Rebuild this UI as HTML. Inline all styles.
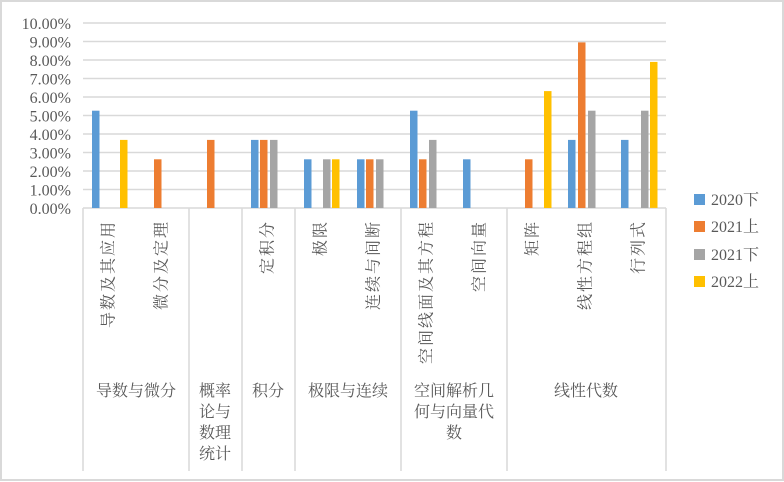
<!DOCTYPE html>
<html><head><meta charset="utf-8"><style>
html,body{margin:0;padding:0;background:#fff}
svg{display:block}
.y{font-family:"Liberation Serif","Noto Serif CJK SC",serif;font-size:16px;fill:#595959}
.c{font-family:"Liberation Serif","Noto Serif CJK SC","Noto Sans CJK SC",serif;font-size:16px;fill:#595959}
</style></head><body>
<svg width="784" height="482" xmlns="http://www.w3.org/2000/svg">
<rect x="1" y="1" width="782" height="479" fill="#fff" stroke="#d9d9d9" stroke-width="2"/>
<g stroke="#d9d9d9" stroke-width="1.5">
<line x1="83" x2="666" y1="23" y2="23"/><line x1="83" x2="666" y1="41.5" y2="41.5"/>
<line x1="83" x2="666" y1="60" y2="60"/><line x1="83" x2="666" y1="78.5" y2="78.5"/>
<line x1="83" x2="666" y1="97" y2="97"/><line x1="83" x2="666" y1="115.5" y2="115.5"/>
<line x1="83" x2="666" y1="134" y2="134"/><line x1="83" x2="666" y1="152.5" y2="152.5"/>
<line x1="83" x2="666" y1="171" y2="171"/><line x1="83" x2="666" y1="189.5" y2="189.5"/>
<line x1="83" x2="666" y1="208" y2="208"/>
<line x1="83" x2="83" y1="208" y2="471"/><line x1="189" x2="189" y1="208" y2="471"/>
<line x1="242" x2="242" y1="208" y2="471"/><line x1="295" x2="295" y1="208" y2="471"/>
<line x1="401" x2="401" y1="208" y2="471"/><line x1="507" x2="507" y1="208" y2="471"/>
<line x1="666" x2="666" y1="208" y2="471"/>
</g>
<g class="y" text-anchor="end">
<text x="71" y="29">10.00%</text><text x="71" y="47.5">9.00%</text><text x="71" y="66">8.00%</text>
<text x="71" y="84.5">7.00%</text><text x="71" y="103">6.00%</text><text x="71" y="121.5">5.00%</text>
<text x="71" y="140">4.00%</text><text x="71" y="158.5">3.00%</text><text x="71" y="177">2.00%</text>
<text x="71" y="195.5">1.00%</text><text x="71" y="214">0.00%</text>
</g>
<g>
<rect x="92" y="110.7" width="7.5" height="97.3" fill="#5b9bd5"/>
<rect x="120" y="139.9" width="7.5" height="68.1" fill="#ffc000"/>
<rect x="154" y="159.3" width="7.5" height="48.7" fill="#ed7d31"/>
<rect x="207" y="139.9" width="7.5" height="68.1" fill="#ed7d31"/>
<rect x="251" y="139.9" width="7.5" height="68.1" fill="#5b9bd5"/>
<rect x="260" y="139.9" width="7.5" height="68.1" fill="#ed7d31"/>
<rect x="270" y="139.9" width="7.5" height="68.1" fill="#a5a5a5"/>
<rect x="304" y="159.3" width="7.5" height="48.7" fill="#5b9bd5"/>
<rect x="323" y="159.3" width="7.5" height="48.7" fill="#a5a5a5"/>
<rect x="332" y="159.3" width="7.5" height="48.7" fill="#ffc000"/>
<rect x="357" y="159.3" width="7.5" height="48.7" fill="#5b9bd5"/>
<rect x="366" y="159.3" width="7.5" height="48.7" fill="#ed7d31"/>
<rect x="376" y="159.3" width="7.5" height="48.7" fill="#a5a5a5"/>
<rect x="410" y="110.7" width="7.5" height="97.3" fill="#5b9bd5"/>
<rect x="419" y="159.3" width="7.5" height="48.7" fill="#ed7d31"/>
<rect x="429" y="139.9" width="7.5" height="68.1" fill="#a5a5a5"/>
<rect x="463" y="159.3" width="7.5" height="48.7" fill="#5b9bd5"/>
<rect x="525" y="159.3" width="7.5" height="48.7" fill="#ed7d31"/>
<rect x="544" y="91.1" width="7.5" height="116.9" fill="#ffc000"/>
<rect x="568" y="139.9" width="7.5" height="68.1" fill="#5b9bd5"/>
<rect x="578" y="42.4" width="7.5" height="165.6" fill="#ed7d31"/>
<rect x="588" y="110.7" width="7.5" height="97.3" fill="#a5a5a5"/>
<rect x="621" y="139.9" width="7.5" height="68.1" fill="#5b9bd5"/>
<rect x="641" y="110.7" width="7.5" height="97.3" fill="#a5a5a5"/>
<rect x="650" y="61.9" width="7.5" height="146" fill="#ffc000"/>
</g>
<g class="c" dominant-baseline="central" text-anchor="end" letter-spacing="2">
<text transform="translate(109,220) rotate(-90)">导数及其应用</text>
<text transform="translate(162,220) rotate(-90)">微分及定理</text>
<text transform="translate(268,220) rotate(-90)">定积分</text>
<text transform="translate(321,220) rotate(-90)">极限</text>
<text transform="translate(374,220) rotate(-90)">连续与间断</text>
<text transform="translate(427,220) rotate(-90)">空间线面及其方程</text>
<text transform="translate(480,220) rotate(-90)">空间向量</text>
<text transform="translate(533,220) rotate(-90)">矩阵</text>
<text transform="translate(586,220) rotate(-90)">线性方程组</text>
<text transform="translate(639,220) rotate(-90)">行列式</text>
</g>
<g class="c" text-anchor="middle">
<text x="136" y="396">导数与微分</text>
<text x="215" y="396">概率</text><text x="215" y="417">论与</text><text x="215" y="438">数理</text><text x="215" y="459">统计</text>
<text x="268" y="396">积分</text>
<text x="348" y="396">极限与连续</text>
<text x="454" y="396">空间解析几</text><text x="454" y="417">何与向量代</text><text x="454" y="438">数</text>
<text x="586" y="396">线性代数</text>
</g>
<g class="y">
<rect x="694" y="194" width="11" height="11" fill="#5b9bd5"/><text x="711" y="205">2020下</text>
<rect x="694" y="221" width="11" height="11" fill="#ed7d31"/><text x="711" y="232">2021上</text>
<rect x="694" y="249" width="11" height="11" fill="#a5a5a5"/><text x="711" y="260">2021下</text>
<rect x="694" y="276" width="11" height="11" fill="#ffc000"/><text x="711" y="287">2022上</text>
</g>
</svg>
</body></html>
